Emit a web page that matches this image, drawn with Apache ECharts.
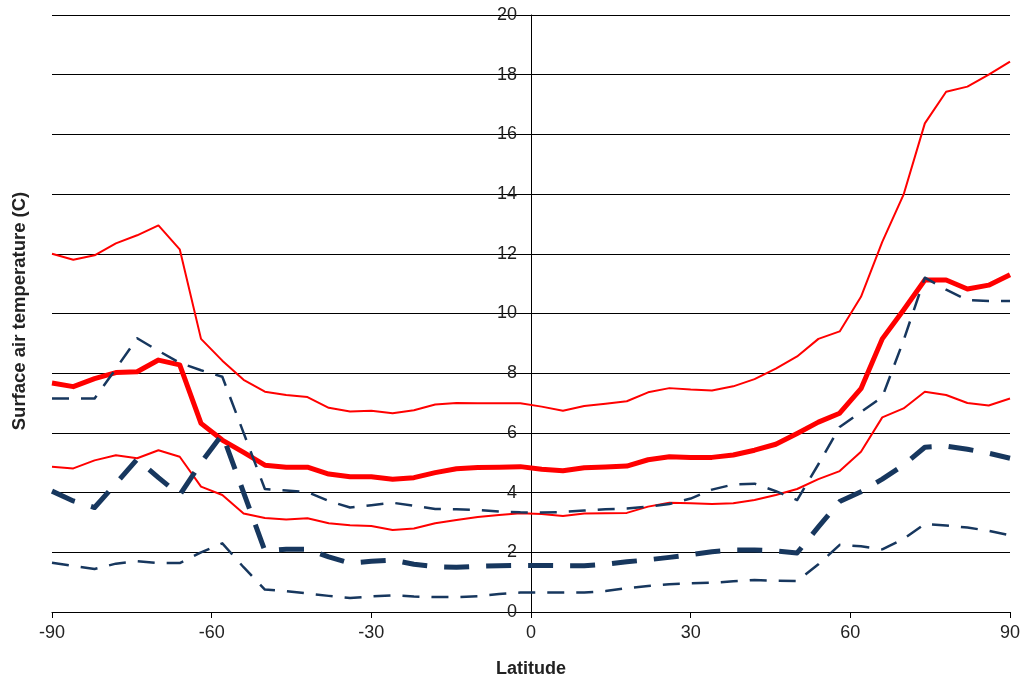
<!DOCTYPE html>
<html>
<head>
<meta charset="utf-8">
<script src="https://cdn.jsdelivr.net/npm/echarts@6/dist/echarts.min.js"></script>
<style>
html,body{margin:0;padding:0;background:#fff;}
#chart{width:1024px;height:684px;}
</style>
</head>
<body>
<div id="chart"></div>
<script>
// Latitude of each data point (degrees)
var lats = [-90,-86,-82,-78,-74,-70,-66,-62,-58,-54,-50,-46,-42,-38,-34,-30,-26,-22,-18,-14,-10,-6,-2,
            2,6,10,14,18,22,26,30,34,38,42,46,50,54,58,62,66,70,74,78,82,86,90];

// Surface air temperature (C)
var redUpper = [12.0,11.8,11.95,12.35,12.62,12.95,12.15,9.15,8.42,7.78,7.38,7.27,7.2,6.84,6.72,6.74,6.66,6.76,6.95,7.0,6.99,6.99,6.99,
                6.88,6.74,6.9,6.98,7.06,7.36,7.5,7.45,7.42,7.56,7.8,8.15,8.56,9.15,9.4,10.56,12.4,13.98,16.37,17.43,17.6,18.0,18.44];
var redMid   = [7.67,7.55,7.82,8.02,8.05,8.44,8.28,6.32,5.76,5.35,4.92,4.85,4.85,4.62,4.53,4.53,4.45,4.5,4.67,4.8,4.84,4.85,4.87,
                4.78,4.73,4.83,4.86,4.89,5.1,5.2,5.18,5.18,5.26,5.42,5.62,5.98,6.36,6.66,7.48,9.15,10.12,11.12,11.12,10.82,10.95,11.3];
var redLow   = [4.87,4.81,5.08,5.25,5.15,5.42,5.2,4.2,3.92,3.3,3.15,3.1,3.14,2.97,2.91,2.88,2.75,2.8,2.97,3.08,3.18,3.25,3.31,
                3.28,3.22,3.3,3.31,3.32,3.53,3.66,3.64,3.62,3.64,3.75,3.92,4.12,4.45,4.72,5.37,6.52,6.82,7.38,7.27,7.0,6.92,7.15];
var blueUpper = [7.15,7.15,7.15,8.15,9.17,8.75,8.35,8.1,7.88,6.0,4.12,4.07,4.02,3.72,3.5,3.58,3.66,3.56,3.45,3.44,3.42,3.37,3.34,
                 3.33,3.35,3.4,3.44,3.47,3.53,3.62,3.8,4.1,4.27,4.3,4.05,3.75,4.95,6.2,6.7,7.2,9.1,11.2,10.8,10.45,10.42,10.42];
var blueMid   = [4.05,3.72,3.5,4.3,5.12,4.5,3.92,5.0,5.95,4.0,2.05,2.1,2.1,1.85,1.64,1.7,1.74,1.6,1.52,1.5,1.53,1.55,1.56,
                 1.56,1.55,1.55,1.6,1.68,1.75,1.83,1.92,2.02,2.08,2.08,2.05,1.98,2.85,3.7,4.03,4.45,4.92,5.52,5.56,5.45,5.32,5.15];
var blueLow   = [1.65,1.54,1.44,1.62,1.7,1.64,1.64,2.0,2.3,1.5,0.75,0.7,0.62,0.54,0.47,0.52,0.56,0.52,0.5,0.5,0.53,0.6,0.65,
                 0.66,0.65,0.65,0.7,0.8,0.87,0.93,0.96,0.98,1.03,1.07,1.05,1.04,1.6,2.25,2.2,2.1,2.45,2.95,2.9,2.83,2.72,2.57];

var xTicks = [-90,-60,-30,0,30,60,90];
var yTicks = [0,2,4,6,8,10,12,14,16,18,20];

var RED = '#ff0000';
var BLUE = '#17375e';
var FONT = "'Liberation Sans', Arial, sans-serif";

var GRID_LEFT = 52, GRID_RIGHT = 14;
var plotWidth = 1024 - GRID_LEFT - GRID_RIGHT;
// place the y axis at latitude 0 (middle of the x range)
var yAxisOffset = -plotWidth * (0 - xTicks[0]) / (xTicks[xTicks.length-1] - xTicks[0]);

function pairs(arr){ return lats.map(function(x,i){ return [x, arr[i]]; }); }
function mk(name, arr, color, width, dash){
  return {
    name: name, type: 'line', data: pairs(arr), showSymbol: false, symbol: 'none',
    animation: false, silent: true,
    lineStyle: { color: color, width: width, type: dash || 'solid', cap: 'butt', join: 'round' }
  };
}

var chart = echarts.init(document.getElementById('chart'), null, {renderer: 'canvas'});
chart.setOption({
  backgroundColor: '#ffffff',
  animation: false,
  grid: { left: GRID_LEFT, right: GRID_RIGHT, top: 15, bottom: 72, containLabel: false, outerBoundsMode: 'none' },
  xAxis: {
    type: 'value', min: xTicks[0], max: xTicks[xTicks.length-1], interval: 30,
    name: 'Latitude', nameLocation: 'middle', nameGap: 48,
    nameTextStyle: { fontFamily: FONT, fontSize: 18, fontWeight: 'bold', color: '#222' },
    axisLine: { onZero: true, lineStyle: { color: '#000', width: 1 } },
    axisTick: { show: true, length: 6, lineStyle: { color: '#000', width: 1 } },
    axisLabel: { fontFamily: FONT, fontSize: 18, color: '#222', margin: 12 },
    splitLine: { show: false }
  },
  yAxis: {
    type: 'value', min: yTicks[0], max: yTicks[yTicks.length-1], interval: 2,
    position: 'left', offset: yAxisOffset,
    axisLine: { show: true, onZero: false, lineStyle: { color: '#000', width: 1 } },
    axisTick: { show: true, length: 5, lineStyle: { color: '#000', width: 1 } },
    axisLabel: { fontFamily: FONT, fontSize: 18, color: '#222', margin: 14 },
    splitLine: { show: true, lineStyle: { color: '#000', width: 1 } }
  },
  graphic: [{
    type: 'text', rotation: Math.PI/2,
    x: 20, y: 311,
    style: { text: 'Surface air temperature (C)', fontFamily: FONT, fontSize: 18.5, fontWeight: 'bold',
             fill: '#222', align: 'center', verticalAlign: 'middle' }
  }],
  series: [
    mk('redUpper', redUpper, RED, 2, 'solid'),
    mk('redMid', redMid, RED, 5, 'solid'),
    mk('redLow', redLow, RED, 2, 'solid'),
    mk('blueUpper', blueUpper, BLUE, 2.5, [17, 12]),
    mk('blueMid', blueMid, BLUE, 5, [25, 17]),
    mk('blueLow', blueLow, BLUE, 2.5, [17, 12])
  ]
});
</script>
</body>
</html>
